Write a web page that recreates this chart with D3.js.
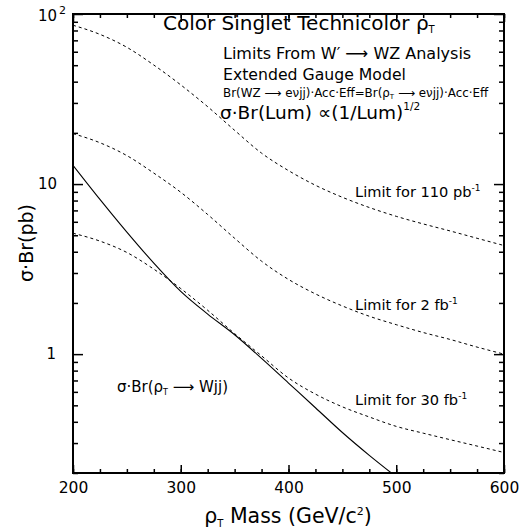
<!DOCTYPE html>
<html><head><meta charset="utf-8">
<script src="https://cdn.jsdelivr.net/npm/d3@7"></script>
<style>
html,body{margin:0;padding:0;background:#fff;}
text{font-family:"DejaVu Sans",sans-serif;fill:#000;}
</style></head>
<body><svg id="c" width="524" height="529"></svg>
<script>
// ---- data ----
const mass = [200,225,250,275,300,325,350,375,400,425,450,475,500,525,550,575,600];
const limit110pb = [85.9,75.9,63.7,50.1,38.3,28.5,20.7,15.2,12.0,9.84,8.36,7.28,6.46,5.83,5.30,4.80,4.35];
const limit2fb   = [19.8,17.5,14.7,11.6,8.95,6.62,4.80,3.52,2.75,2.26,1.92,1.67,1.49,1.34,1.22,1.10,1.0];
const limit30fb  = [5.14,4.62,3.96,3.16,2.43,1.81,1.32,0.977,0.724,0.582,0.49,0.427,0.376,0.343,0.314,0.288,0.264];
const wjjMass    = [200,225,250,275,300,325,350,375,400,425,450,475,500];
const wjjXsec    = [12.9,8.13,5.22,3.43,2.34,1.72,1.30,0.944,0.676,0.484,0.346,0.254,0.19];
const xMajor = [200,300,400,500,600];
const yMajor = [1,10,100];
const yMinor = [0.2,0.3,0.4,0.5,0.6,0.7,0.8,0.9,2,3,4,5,6,7,8,9,20,30,40,50,60,70,80,90];

const svg = d3.select("#c");
const L=73, R=504, T=14, B=473;
const x = d3.scaleLinear().domain([200,600]).range([L,R]);
const y = d3.scaleLog().domain([0.2,100]).range([B,T]);

svg.append("rect").attr("width",524).attr("height",529).attr("fill","#fff");
svg.append("defs").append("clipPath").attr("id","clip")
  .append("rect").attr("x",L).attr("y",T).attr("width",R-L).attr("height",B-T);

const xMinor = d3.range(200,601,25);
function styleAxis(g){ g.select(".domain").remove(); g.selectAll("line").attr("stroke","#000").attr("stroke-width",1.5); }

// bottom
svg.append("g").attr("transform",`translate(0,${B})`)
  .call(d3.axisBottom(x).tickValues(xMinor).tickSize(-4).tickFormat("")).call(styleAxis);
const gb = svg.append("g").attr("transform",`translate(0,${B})`)
  .call(d3.axisBottom(x).tickValues(xMajor).tickSize(-8).tickPadding(9).tickFormat(d3.format("d"))).call(styleAxis);
gb.selectAll("text").attr("font-size",15.5).attr("font-family","DejaVu Sans");
// top
svg.append("g").attr("transform",`translate(0,${T})`)
  .call(d3.axisTop(x).tickValues(xMinor).tickSize(-4).tickFormat("")).call(styleAxis);
svg.append("g").attr("transform",`translate(0,${T})`)
  .call(d3.axisTop(x).tickValues(xMajor).tickSize(-8).tickFormat("")).call(styleAxis);
// left
svg.append("g").attr("transform",`translate(${L},0)`)
  .call(d3.axisLeft(y).tickValues(yMinor).tickSize(-5).tickFormat("")).call(styleAxis);
svg.append("g").attr("transform",`translate(${L},0)`)
  .call(d3.axisLeft(y).tickValues(yMajor).tickSize(-10).tickFormat("")).call(styleAxis);
// right
svg.append("g").attr("transform",`translate(${R},0)`)
  .call(d3.axisRight(y).tickValues(yMinor).tickSize(-5).tickFormat("")).call(styleAxis);
svg.append("g").attr("transform",`translate(${R},0)`)
  .call(d3.axisRight(y).tickValues(yMajor).tickSize(-10).tickFormat("")).call(styleAxis);

// frame
svg.append("rect").attr("x",L).attr("y",T).attr("width",R-L).attr("height",B-T)
  .attr("fill","none").attr("stroke","#000").attr("stroke-width",2);

// y labels
svg.append("text").attr("x",56).attr("y",y(1)+5).attr("text-anchor","end").attr("font-size",15).text("1");
svg.append("text").attr("x",57).attr("y",y(10)+5).attr("text-anchor","end").attr("font-size",15).text("10");
const t100 = svg.append("text").attr("x",38).attr("y",y(100)+7).attr("font-size",15);
t100.append("tspan").text("10");
t100.append("tspan").attr("dy",-7).attr("dx",2).attr("font-size",11).text("2");

// curves
const line = d3.line().x(d=>x(d[0])).y(d=>y(d[1])).curve(d3.curveMonotoneX);
const cg = svg.append("g").attr("clip-path","url(#clip)");
[limit110pb,limit2fb,limit30fb].forEach(s=>{
  cg.append("path").datum(mass.map((m,i)=>[m,s[i]])).attr("d",line)
    .attr("fill","none").attr("stroke","#000").attr("stroke-width",1).attr("stroke-dasharray","3,3");
});
cg.append("path").datum(wjjMass.map((m,i)=>[m,wjjXsec[i]])).attr("d",line)
  .attr("fill","none").attr("stroke","#000").attr("stroke-width",1.1);

// axis titles
const xt = svg.append("text").attr("x",288).attr("y",523).attr("text-anchor","middle").attr("font-size",20.5);
xt.append("tspan").text("ρ");
xt.append("tspan").attr("font-size",10).attr("dy",4).text("T");
xt.append("tspan").attr("dy",-4).text(" Mass (GeV/c");
xt.append("tspan").attr("font-size",11).attr("dy",-8).text("2");
xt.append("tspan").attr("dy",8).text(")");

svg.append("text").attr("transform","translate(33,243) rotate(-90)").attr("text-anchor","middle")
  .attr("font-size",19).text("σ·Br(pb)");

// annotations
const title = svg.append("text").attr("x",163).attr("y",30).attr("font-size",20);
title.append("tspan").text("Color Singlet Technicolor ρ");
title.append("tspan").attr("font-size",10).attr("dy",3).text("T");

svg.append("text").attr("x",223).attr("y",59).attr("font-size",16).text("Limits From W′ ⟶ WZ Analysis");
svg.append("text").attr("x",223).attr("y",80).attr("font-size",15.7).text("Extended Gauge Model");
const br = svg.append("text").attr("x",223).attr("y",97).attr("font-size",11.9);
br.append("tspan").text("Br(WZ ⟶ eνjj)·Acc·Eff=Br(ρ");
br.append("tspan").attr("font-size",7).attr("dy",2).text("T");
br.append("tspan").attr("dy",-2).text(" ⟶ eνjj)·Acc·Eff");
const lum = svg.append("text").attr("x",220).attr("y",119).attr("font-size",18.5);
lum.append("tspan").text("σ·Br(Lum) ∝(1/Lum)");
lum.append("tspan").attr("font-size",10.5).attr("dy",-9).text("1/2");

function limitLabel(yy, num, unit){
  const t = svg.append("text").attr("x",355).attr("y",yy).attr("font-size",14.6);
  t.append("tspan").text("Limit for "+num+" "+unit);
  t.append("tspan").attr("font-size",9).attr("dy",-6).text("-1");
}
limitLabel(197,"110","pb");
limitLabel(310,"2","fb");
limitLabel(405,"30","fb");

const wl = svg.append("text").attr("x",117).attr("y",392).attr("font-size",15);
wl.append("tspan").text("σ·Br(ρ");
wl.append("tspan").attr("font-size",8).attr("dy",3).text("T");
wl.append("tspan").attr("dy",-3).text(" ⟶ Wjj)");
</script></body></html>
